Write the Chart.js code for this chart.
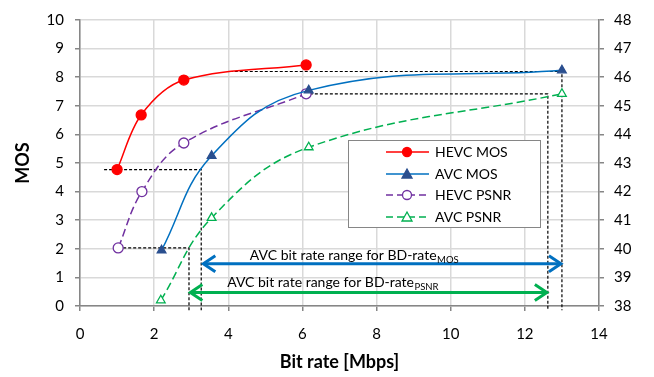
<!DOCTYPE html>
<html>
<head>
<meta charset="utf-8">
<script src="https://cdn.jsdelivr.net/npm/chart.js@4.4.0/dist/chart.umd.min.js"></script>
<style>
  html, body { margin: 0; padding: 0; background: #fff; }
  #wrap { width: 654px; height: 377px; position: relative; }
</style>
</head>
<body>
<div id="wrap"><canvas id="chart"></canvas></div>
<script>
  const FONT = "Lato, 'Open Sans', sans-serif";

  // series (x in Mbps, MOS on left axis, PSNR in dB on right axis)
  const hevcMosX = [1.0, 1.65, 2.8, 6.1];
  const hevcMosY = [4.77, 6.68, 7.9, 8.43];
  const avcMosX = [2.2, 3.55, 6.17, 13.0];
  const avcMosY = [1.95, 5.25, 7.54, 8.24];
  const hevcPsnrX = [1.03, 1.67, 2.8, 6.1];
  const hevcPsnrY = [40.03, 42.0, 43.7, 45.42];
  const avcPsnrX = [2.18, 3.55, 6.17, 13.0];
  const avcPsnrY = [38.2, 41.08, 43.55, 45.42];

  // dashed guide lines (x, MOS)
  const guideLowMos = [[0.65, 4.77], [3.27, 4.77], [3.27, -0.15]];
  const guideLowPsnr = [[1.03, 2.03], [2.94, 2.03], [2.94, -0.15]];
  const guideHighMos = [[4.04, 8.2], [13.0, 8.2], [13.0, -0.15]];
  const guideHighPsnr = [[6.2, 7.42], [12.62, 7.42], [12.62, -0.15]];

  // range arrows: [xStart, xEnd, y], label anchor [x, y]
  const mosArrow = [3.3, 13.0, 1.48];
  const psnrArrow = [2.95, 12.62, 0.47];
  const mosLabel = [4.58, 1.62];
  const psnrLabel = [3.97, 0.66];

  const xRange = [0, 14];
  const mosRange = [0, 10];
  const psnrRange = [38, 48];

  const pts = (xs, ys) => xs.map((x, i) => ({ x, y: ys[i] }));
  const guide = rows => rows.map(r => ({ x: r[0], y: r[1] }));

  const series = [
    { label: "HEVC MOS", color: "#ff0000", fill: "#ff0000", dash: [], style: "circle", axis: "y", tension: 0.33, data: pts(hevcMosX, hevcMosY) },
    { label: "AVC MOS", color: "#0070c0", fill: "#2a4f8f", mcolor: "#2a4f8f", dash: [], style: "triangle", axis: "y", tension: 0.42, data: pts(avcMosX, avcMosY) },
    { label: "HEVC PSNR", color: "#7030a0", fill: "#ffffff", dash: [8, 4], style: "circle", axis: "y2", tension: 0.4, data: pts(hevcPsnrX, hevcPsnrY) },
    { label: "AVC PSNR", color: "#00b050", fill: "#ffffff", dash: [8, 4], style: "triangle", axis: "y2", tension: 0.4, data: pts(avcPsnrX, avcPsnrY) }
  ];

  const guideSet = (data) => ({
    data: guide(data), yAxisID: "y", showLine: true, borderColor: "#000", borderWidth: 1.2,
    borderDash: [3, 2], pointRadius: 0, tension: 0, clip: false, order: 5
  });

  const datasets = series.map(s => ({
    label: s.label,
    data: s.data,
    yAxisID: s.axis,
    showLine: true,
    borderColor: s.color,
    borderWidth: 1.5,
    borderDash: s.dash,
    tension: s.tension,
    pointStyle: s.style,
    pointRadius: 5,
    pointBackgroundColor: s.fill,
    pointBorderColor: s.mcolor || s.color,
    pointBorderWidth: 1.3,
    order: 1
  })).concat([guideLowMos, guideLowPsnr, guideHighMos, guideHighPsnr].map(guideSet));

  function drawHead(ctx, x, y, dir) {
    ctx.beginPath();
    ctx.moveTo(x - dir * 12, y - 8);
    ctx.lineTo(x, y);
    ctx.lineTo(x - dir * 12, y + 8);
    ctx.stroke();
  }

  const annotations = {
    id: "annotations",
    afterDatasetsDraw(chart) {
      const { ctx, scales: { x, y } } = chart;
      const arrows = [[mosArrow, "#0070c0", mosLabel, "MOS"], [psnrArrow, "#00b050", psnrLabel, "PSNR"]];
      ctx.save();
      arrows.forEach(([a, color, lab, sub]) => {
        const x1 = x.getPixelForValue(a[0]), x2 = x.getPixelForValue(a[1]), py = y.getPixelForValue(a[2]);
        ctx.strokeStyle = color;
        ctx.lineWidth = 3;
        ctx.lineCap = "butt";
        ctx.lineJoin = "miter";
        ctx.beginPath();
        ctx.moveTo(x1 + 2, py);
        ctx.lineTo(x2 - 2, py);
        ctx.stroke();
        drawHead(ctx, x1 + 1, py, -1);
        drawHead(ctx, x2 - 1, py, 1);

        const tx = x.getPixelForValue(lab[0]), ty = y.getPixelForValue(lab[1]);
        ctx.fillStyle = "#000";
        ctx.textBaseline = "alphabetic";
        ctx.textAlign = "left";
        ctx.font = "14px " + FONT;
        const main = "AVC bit rate range for BD-rate";
        ctx.fillText(main, tx, ty);
        const w = ctx.measureText(main).width;
        ctx.font = "9.5px " + FONT;
        ctx.fillText(sub, tx + w + 0.5, ty + 3);
      });
      ctx.restore();
    },
    afterDraw(chart) {
      const { ctx } = chart;
      ctx.save();
      ctx.fillStyle = "#fff";
      ctx.fillRect(348, 140, 192, 87);
      ctx.strokeStyle = "#868686";
      ctx.lineWidth = 1;
      ctx.strokeRect(348.5, 140.5, 192, 87);
      const rowY = [152, 174, 195, 217];
      series.forEach((s, i) => {
        const yy = rowY[i];
        ctx.strokeStyle = s.color;
        ctx.lineWidth = 1.5;
        ctx.setLineDash(s.dash.length ? [7, 4] : []);
        ctx.beginPath();
        ctx.moveTo(386, yy);
        ctx.lineTo(429, yy);
        ctx.stroke();
        ctx.setLineDash([]);
        ctx.fillStyle = s.fill;
        ctx.strokeStyle = s.mcolor || s.color;
        ctx.lineWidth = 1.3;
        ctx.beginPath();
        if (s.style === "circle") {
          ctx.arc(407, yy, 4.5, 0, Math.PI * 2);
        } else {
          ctx.moveTo(407, yy - 5);
          ctx.lineTo(412, yy + 4);
          ctx.lineTo(402, yy + 4);
          ctx.closePath();
        }
        ctx.fill();
        ctx.stroke();
        ctx.fillStyle = "#000";
        ctx.font = "14px " + FONT;
        ctx.textAlign = "left";
        ctx.textBaseline = "middle";
        ctx.fillText(s.label, 435, yy);
      });
      ctx.restore();
    }
  };

  const tickFont = { family: FONT, size: 15 };
  const gridStyle = { color: "#d9d9d9", lineWidth: 1.5, tickColor: "#868686", tickLength: 5 };
  const borderStyle = { color: "#868686", width: 1.5 };

  new Chart(document.getElementById("chart"), {
    type: "scatter",
    data: { datasets },
    plugins: [annotations],
    options: {
      responsive: true,
      maintainAspectRatio: false,
      animation: false,
      layout: { padding: { top: 9, left: 0, right: 0, bottom: 0 } },
      plugins: { legend: { display: false }, tooltip: { enabled: false } },
      scales: {
        x: {
          type: "linear", min: xRange[0], max: xRange[1],
          ticks: { stepSize: 2, font: tickFont, color: "#000", padding: 14, maxRotation: 0 },
          grid: gridStyle, border: borderStyle,
          title: { display: true, text: "Bit rate [Mbps]", color: "#000", font: { family: FONT, size: 18, weight: "bold" }, padding: { top: 0, bottom: 4 } },
          afterFit: s => { s.height = 71; }
        },
        y: {
          type: "linear", position: "left", min: mosRange[0], max: mosRange[1],
          ticks: { stepSize: 1, font: tickFont, color: "#000", padding: 11 },
          grid: gridStyle, border: borderStyle,
          title: { display: true, text: "MOS", color: "#000", font: { family: FONT, size: 18, weight: "bold" }, padding: { top: 12, bottom: 0 } },
          afterFit: s => { s.width = 80; }
        },
        y2: {
          type: "linear", position: "right", min: psnrRange[0], max: psnrRange[1],
          ticks: { stepSize: 1, font: tickFont, color: "#000", padding: 10 },
          grid: { drawOnChartArea: false, tickColor: "#868686", tickLength: 5, lineWidth: 1.5 },
          border: borderStyle,
          afterFit: s => { s.width = 55; }
        }
      }
    }
  });
</script>
</body>
</html>
